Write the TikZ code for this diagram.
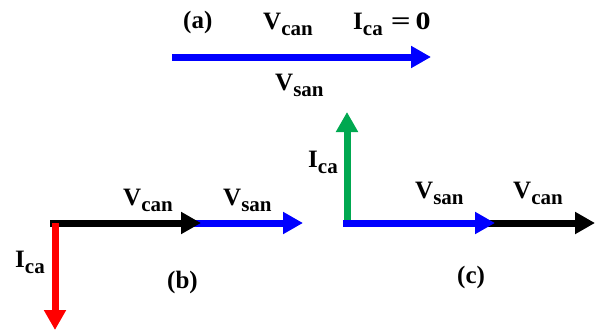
\documentclass[tikz,border=0pt]{standalone}
\usepackage{fontspec}
\setmainfont{Liberation Serif}
\usepackage{xcolor}
\usepackage{graphicx}
\usetikzlibrary{arrows.meta}
\definecolor{phgreen}{RGB}{0,168,80}
\newcommand{\lsub}[1]{\raisebox{-6pt}{\fontsize{21}{21}\selectfont #1}}

\begin{document}
\begin{tikzpicture}[x=1pt,y=-1pt,
  font=\fontsize{25}{25}\selectfont\bfseries,
  lab/.style={anchor=base west,inner sep=0pt},
  vec/.style={-{Triangle[length=20pt,width=21pt]},line width=7pt}]
  \useasboundingbox (0,0) rectangle (599,332);
  % (a)
  \coordinate (oa) at (172,57);
  \coordinate (ea) at (431,57);
  \node[lab] (ta) at (183,28) {(a)};
  \node[lab] (vca) at (263,29) {V\lsub{can}};
  \node[lab] (ia) at (353,29) {I\lsub{ca}\hspace{8pt}\scalebox{1.4}[1]{=}\hspace{5pt}\scalebox{1.2}[1]{0}};
  \node[lab] (vsa) at (275,90) {V\lsub{san}};
  \draw[vec,blue] (oa)--(ea);
  % (b)
  \coordinate (ob) at (50,223);
  \coordinate (rb) at (55,223);
  \coordinate (cb) at (201,223);
  \coordinate (bb) at (190,223);
  \coordinate (sb) at (303,223);
  \coordinate (ib) at (55,330);
  \node[lab] (vcb) at (123,205) {V\lsub{can}};
  \node[lab] (vsb) at (223,205) {V\lsub{san}};
  \node[lab] (icb) at (15,267) {I\lsub{ca}};
  \node[lab] (tb) at (167,288) {(b)};
  \draw[vec,blue] (bb)--(sb);
  \draw[vec,black] (ob)--(cb);
  \draw[vec,red] (rb)--(ib);
  % (c)
  \coordinate (oc) at (343,223);
  \coordinate (gc) at (347,223);
  \coordinate (sc) at (495,223);
  \coordinate (kc) at (485,223);
  \coordinate (cc) at (595,223);
  \coordinate (ic) at (347,112);
  \node[lab] (icc) at (308,167) {I\lsub{ca}};
  \node[lab] (vsc) at (415,198) {V\lsub{san}};
  \node[lab] (vcc) at (513,198) {V\lsub{can}};
  \node[lab] (tc) at (457,283) {(c)};
  \draw[vec,phgreen] (gc)--(ic);
  \draw[vec,black] (kc)--(cc);
  \draw[vec,blue] (oc)--(sc);
\end{tikzpicture}
\end{document}
